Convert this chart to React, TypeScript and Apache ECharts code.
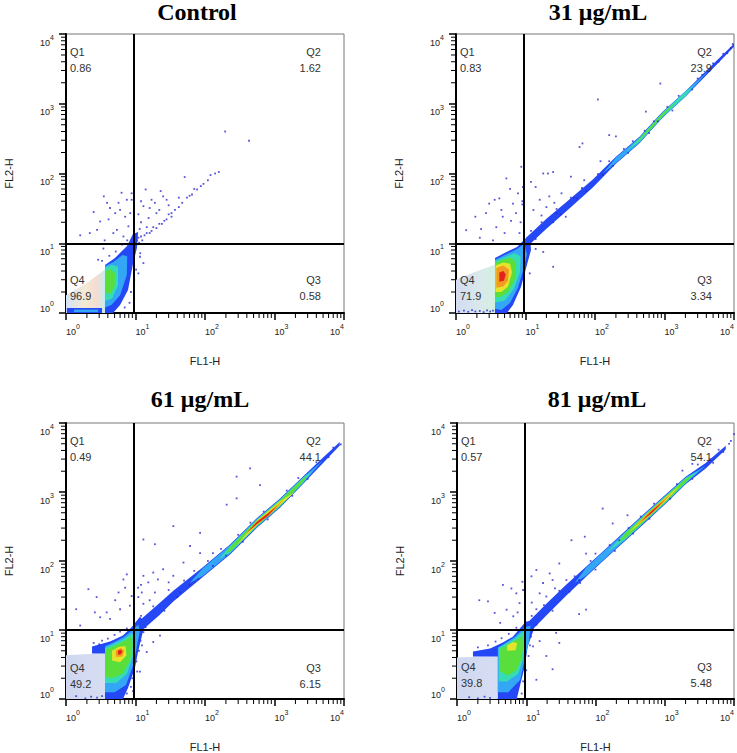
import React, { useEffect, useRef } from "react";
import * as echarts from "echarts";

type P = [number, number];

// ---------- texts ----------
const panelTitles = ["Control", "31 μg/mL", "61 μg/mL", "81 μg/mL"];
const q1Values = ["0.86", "0.83", "0.49", "0.57"];
const q2Values = ["1.62", "23.9", "44.1", "54.1"];
const q3Values = ["0.58", "3.34", "6.15", "5.48"];
const q4Values = ["96.9", "71.9", "49.2", "39.8"];
const xAxisName = "FL1-H";
const yAxisName = "FL2-H";

// ---------- axes / gates ----------
const axisMin = 1;
const axisMax = 10000;
const gateX = 9.4;
const gateY = 10;
const minorTickValues = [2, 3, 4, 5, 6, 7, 8, 9, 20, 30, 40, 50, 60, 70, 80, 90, 200, 300, 400, 500, 600, 700, 800, 900, 2000, 3000, 4000, 5000, 6000, 7000, 8000, 9000];

// ---------- Control ----------
const ctrlPale: P[] = [[1, 1], [1, 1.8], [2, 2.7], [3.64, 4.2], [3.64, 1]];
const ctrlStripL1: P[] = [[1.03, 1], [1.03, 1.18], [3.3, 1.18], [3.3, 1]];
const ctrlStripL2: P[] = [[1.3, 1.03], [1.3, 1.12], [2.9, 1.12], [2.9, 1.03]];
const ctrlLobeL1: P[] = [[3.64, 1], [3.64, 4.89], [5.07, 6.15], [7.55, 9.15], [9.2, 13.6], [10.9, 14.5], [10.5, 8.6], [9.2, 5.05], [7.8, 2.14], [6, 1.3], [4.75, 1]];
const ctrlLobeL2: P[] = [[3.64, 1.2], [3.64, 4.7], [4.8, 5.4], [6.5, 6.8], [7.6, 6.5], [7.5, 3.5], [6, 1.8], [4.5, 1.3]];
const ctrlLobeL3: P[] = [[3.64, 1.5], [3.64, 4.5], [4.6, 4.9], [5.6, 4.6], [5.6, 2.5], [4.6, 1.6]];
const ctrlLobeL4: P[] = [[3.64, 1.94], [3.64, 3.9], [4.3, 4.3], [5.07, 3.7], [5, 2.4], [4.4, 1.9]];
const ctrlDots: P[] = [
  [195, 400], [430, 295], [158, 105], [140, 100], [51, 89], [95, 71], [87, 66], [77, 59], [65, 50], [55, 45], [47, 38], [37, 30], [33, 24], [28, 22], [24, 19], [20, 16.5], [17, 15], [14.5, 14], [12, 12.5], [10.5, 11],
  [9, 9.5], [10, 10], [11, 12], [12.5, 11], [13.5, 13], [16, 14], [18, 17], [22, 19], [26, 21], [30, 26], [42, 33], [60, 48], [70, 60], [110, 80], [120, 95],
  [14, 59], [23, 56], [25, 47], [17, 42], [12, 40], [13, 34], [20, 27], [15.4, 23], [28, 42], [33, 27], [14.5, 17], [11, 26], [16, 32], [19, 38], [22, 30], [12, 20], [11.5, 16], [30, 35], [42, 45],
  [8.8, 52], [7.5, 42], [5.7, 38], [4.3, 32], [3.9, 38], [6, 30], [5.1, 27], [7.1, 24], [4.1, 22], [2.5, 28], [2.8, 15.5], [2.2, 14], [1.6, 13], [3.1, 20.5], [5.4, 15.5], [7.9, 17.5], [4.8, 14], [6.7, 12.5], [3.6, 11], [8.4, 27], [8.8, 42], [3.5, 47], [6.3, 53],
  [11.7, 7.2], [13, 5.2], [11, 3.7], [3.45, 8.4], [2.9, 5.8],
  [3.3, 5.6], [4.2, 6.6], [5.2, 7.6], [6.4, 9.6], [7.6, 11], [11.3, 10.2], [11.6, 6.4], [10.2, 4.2], [9.6, 3], [8.6, 2], [7, 1.2], [8.2, 1.4],
];

// ---------- 31 µg/mL ----------
const tr31Pale: P[] = [[1, 1], [1, 3], [1.9, 3.9], [3.64, 4.9], [3.64, 1]];
const tr31LobeL1: P[] = [[3.64, 1], [3.64, 6.15], [5.07, 7.3], [7.55, 8.85], [9.5, 11.1], [11.6, 12.7], [12, 8], [10.5, 4.9], [8.6, 2.36], [6.6, 1.3], [5.4, 1]];
const tr31LobeL2: P[] = [[3.64, 1.15], [3.64, 5.8], [5, 6.8], [7.5, 8.2], [9.5, 9.8], [10.5, 7], [9.4, 4.3], [7.8, 2.3], [6, 1.4], [4.5, 1.1]];
const tr31LobeL3: P[] = [[3.64, 1.4], [3.64, 5.5], [5, 6.3], [7, 7.2], [8.5, 6.5], [8.3, 3.8], [6.8, 2.2], [5, 1.5]];
const tr31LobeL4: P[] = [[3.64, 1.7], [3.64, 5.2], [4.8, 5.9], [6.3, 6.2], [7.3, 5.2], [7, 3], [5.6, 2], [4.4, 1.7]];
const tr31LobeL5: P[] = [[3.7, 2], [3.7, 4.8], [4.8, 5.3], [6, 5.1], [6.4, 3.8], [5.6, 2.4], [4.5, 2]];
const tr31LobeL6: P[] = [[3.8, 2.3], [3.8, 4.4], [4.8, 4.8], [5.8, 4.2], [5.6, 2.9], [4.8, 2.4]];
const tr31LobeL7: P[] = [[4.2, 2.8], [4.2, 3.8], [4.8, 4], [5.2, 3.6], [4.9, 2.9]];
const tr31BandL1: P[] = [[10, 11.8], [20, 22.4], [38, 38.3], [93, 82.2], [200, 174.5], [436, 336.7], [930, 762], [2040, 1537], [4370, 3247], [10000, 7273], [10000, 6546], [4370, 2809], [2040, 1294], [930, 625], [436, 271], [200, 137.6], [93, 63.1], [38, 28.4], [20, 16.1], [10, 8.5]];
const tr31BandL2: P[] = [[130, 101], [200, 169], [436, 329], [930, 752], [2040, 1537], [4370, 3020], [2040, 1294], [930, 633], [436, 277], [200, 142]];
const tr31BandL3: P[] = [[280, 207], [436, 322.5], [930, 737], [2040, 1506], [2600, 1796], [2040, 1320], [930, 646], [436, 283]];
const tr31BandL4: P[] = [[350, 250], [600, 450], [930, 725], [1500, 1065], [930, 657], [600, 407]];
const tr31Dots: P[] = [
  [1.4, 15.4], [1.9, 24], [2.3, 16], [3, 37], [3.6, 42], [4.2, 44], [5.3, 85], [6.6, 37], [7.3, 27], [6.2, 21], [4.7, 24], [3.8, 17], [8.2, 14], [7.8, 52], [9.2, 64], [8.7, 125], [2.7, 27], [3.4, 11], [2.2, 12], [5, 14], [9, 40], [9, 36], [6, 60], [4.5, 30], [8.5, 20],
  [12, 76], [14, 64], [18, 100], [21, 100], [25, 105], [16, 42], [20, 33], [22, 47], [28, 27], [33, 52], [38, 24], [45, 90], [60, 240], [66, 270], [110, 1150], [160, 355], [200, 340], [540, 770], [870, 1950], [13, 30], [17, 25], [26, 38], [50, 45], [70, 80], [120, 150],
  [14, 8.3], [25, 4.6], [11.5, 3.7], [18, 7.5], [9000, 6300], [9600, 7200],
  [1.1, 1.05], [1.3, 1.08], [1.5, 1.04], [1.7, 1.1], [1.9, 1.05], [2.2, 1.07], [2.5, 1.03], [2.8, 1.09], [3.1, 1.05], [3.4, 1.08],
  [12, 15], [14, 11.5], [17, 20], [25, 20], [28, 31], [32, 26], [45, 45], [55, 44], [65, 62], [75, 56], [110, 98], [130, 95], [160, 150], [180, 128], [260, 225], [300, 198], [350, 290], [520, 410], [600, 380], [700, 560], [800, 560], [1100, 900], [1300, 800], [1600, 1300], [2500, 1600], [3000, 2300], [3500, 2600], [5000, 3800], [6000, 4000], [7000, 5200], [8000, 5300],
];

// ---------- 61 µg/mL ----------
const ml61Pale: P[] = [[1, 1], [1, 4.3], [3.64, 4.6], [3.64, 1]];
const ml61LobeL1: P[] = [[2.37, 4.57], [2.37, 5.76], [4.3, 6.8], [6.6, 8.3], [8.9, 11.1], [11.6, 15.5], [14.2, 12.3], [12.8, 9.5], [10.9, 4.89], [9.8, 2.78], [7.8, 1.44], [6.6, 1], [3.64, 1], [3.64, 4.57]];
const ml61LobeL2: P[] = [[3.64, 1.25], [3.64, 5.8], [4.8, 6.6], [6.8, 7.9], [9, 10], [11, 12], [11.5, 9.5], [10.2, 5], [9.2, 3], [7.3, 1.6], [5, 1.25]];
const ml61LobeL3: P[] = [[3.64, 1.7], [3.64, 5.5], [4.8, 6.2], [6.8, 7.4], [9, 9], [9.8, 7], [9.2, 4.2], [7.5, 2.3], [5.3, 1.7]];
const ml61LobeL4: P[] = [[3.7, 2.1], [3.7, 5.2], [5, 5.9], [7, 7], [8.8, 8.2], [9.1, 6], [8.4, 3.6], [6.5, 2.3], [4.5, 2]];
const ml61LobeL5: P[] = [[4.6, 3.6], [4.6, 5], [5.8, 5.7], [7.2, 5.8], [7.4, 4.3], [6, 3.4]];
const ml61LobeL6: P[] = [[5.2, 4.1], [5.2, 5.1], [6.2, 5.5], [6.9, 5], [6.4, 4.1]];
const ml61LobeL7: P[] = [[5.6, 4.4], [5.6, 5], [6.2, 5.2], [6.5, 4.8], [6.1, 4.4]];
const ml61BandL1: P[] = [[10, 12.2], [22, 24.4], [35, 37.2], [93, 81.4], [229, 173.5], [560, 421], [1200, 803], [2570, 1678], [5000, 3159], [8700, 5305], [8700, 4713], [5000, 2625], [2570, 1305], [1200, 593], [560, 302.5], [229, 124.6], [93, 58.5], [35, 25.9], [22, 16.4], [10, 8.2]];
const ml61BandL2: P[] = [[60, 48], [93, 78.7], [229, 169], [560, 410], [1200, 785], [2570, 1640], [5000, 2880], [2570, 1336], [1200, 607], [560, 311], [229, 128], [93, 60.5]];
const ml61BandL3: P[] = [[160, 107], [229, 163], [560, 401], [1200, 769], [2570, 1607], [3500, 2014], [2570, 1363], [1200, 619], [560, 318], [229, 132]];
const ml61BandL4: P[] = [[200, 131], [229, 158], [560, 392], [1200, 757], [2570, 1570], [3000, 1726], [2570, 1395], [1200, 629], [560, 325], [229, 137]];
const ml61BandL5: P[] = [[280, 165], [560, 383], [1200, 737], [2000, 1020], [1200, 646], [560, 333]];
const ml61BandL6: P[] = [[360, 230], [560, 376], [900, 545], [1400, 805], [900, 490], [560, 339]];
const ml61BandL7: P[] = [[400, 256], [560, 371], [800, 487], [1100, 640], [800, 450], [560, 343]];
const ml61Dots: P[] = [
  [2.1, 39], [2.76, 30], [3.1, 15.3], [3.85, 18], [5.1, 27], [4.3, 14.5], [6.7, 54], [7.5, 64], [7.1, 41], [6, 20], [8.3, 22.5], [5.7, 35], [8.8, 31], [2.6, 18], [1.4, 20], [1.6, 11.6],
  [10.9, 41], [12.3, 35], [11, 30], [13, 24], [16, 27], [12, 45], [13, 61], [15.3, 49], [18, 68], [21, 54], [25, 76], [30, 49], [35, 61], [44, 35], [19, 35], [13, 205], [19, 175], [35, 320], [85, 255], [205, 655], [285, 1670], [445, 2200], [620, 1260], [285, 810], [85, 130], [49, 95], [61, 165], [130, 130],
  [13, 9.3], [18, 6.7], [22.5, 8.3], [11.6, 2.5], [14.5, 4.8],
  [1.9, 1.02], [2.3, 1.08], [2.8, 1.05], [3.3, 1.1], [1.4, 1.1],
  [12, 16], [14, 11], [18, 22], [26, 19], [30, 38], [40, 30], [50, 52], [60, 45], [70, 72], [80, 55], [110, 100], [130, 85], [170, 150], [200, 120], [300, 240], [350, 190], [450, 360], [700, 520], [800, 400], [1500, 1050], [1800, 880], [2200, 1600], [3000, 1550], [4000, 2700], [6000, 3200], [7000, 4400], [9000, 4900],
  [2.5, 6.5], [3, 6.2], [3.3, 7], [4, 7.5], [5, 8.5], [6, 9.5], [7.5, 10.5], [11.2, 5], [11.8, 7], [12.4, 6], [10.3, 3.5], [10.6, 2.5], [9, 2], [8.6, 1.5], [7.5, 1.2], [9.2, 1.3],
];

// ---------- 81 µg/mL ----------
const hi81Pale: P[] = [[1, 1], [1, 4], [3.89, 4.2], [3.89, 1]];
const hi81LobeL1: P[] = [[1.7, 4.14], [1.7, 4.89], [3, 5.4], [4.6, 6.6], [6.4, 8], [9.8, 13.2], [13.3, 14], [12.8, 10.1], [10.5, 5.76], [9.5, 2.97], [8.1, 1.54], [7.3, 1], [3.89, 1], [3.89, 4.14]];
const hi81LobeL2: P[] = [[3.89, 1.25], [3.89, 5.6], [5, 6.5], [6.8, 7.9], [9.5, 11], [11.5, 11.5], [11, 7], [9.6, 4], [8.2, 1.9], [5.5, 1.25]];
const hi81LobeL3: P[] = [[4, 1.8], [4, 5.5], [5.2, 6.4], [7, 7.6], [9.2, 9.8], [9.8, 7], [9, 3.8], [7.6, 2.3], [5.3, 1.8]];
const hi81LobeL4: P[] = [[4.2, 2.5], [4.2, 5.3], [5.5, 6.2], [7.3, 7.3], [8.8, 8.2], [9, 5.5], [8.4, 3.6], [7.2, 2.6], [5.5, 2.2]];
const hi81LobeL5: P[] = [[5.3, 5], [5.3, 6], [6.5, 6.7], [7.4, 6.4], [7, 5.1]];
const hi81BandL1: P[] = [[10, 12.2], [19.5, 24], [38, 45.6], [73, 82.6], [142, 152.2], [275, 278.5], [535, 513], [1040, 925], [2000, 1667], [3900, 2633], [7600, 4668], [7600, 4147], [3900, 2188], [2000, 1296], [1040, 683], [535, 368.6], [275, 200], [142, 109.3], [73, 59.3], [38, 31.7], [19.5, 16.2], [10, 8.2]];
const hi81BandL2: P[] = [[50, 48], [73, 79.9], [142, 148.2], [275, 271], [535, 500], [1040, 904], [2000, 1629], [3900, 2400], [2000, 1327], [1040, 699], [535, 378.6], [275, 205.4], [142, 112.3], [73, 61.3]];
const hi81BandL3: P[] = [[150, 136], [275, 265], [535, 488.5], [1040, 886], [2000, 1596], [3000, 1986], [2000, 1354], [1040, 713], [535, 387], [275, 210]];
const hi81BandL4: P[] = [[220, 191], [275, 257], [535, 477], [1040, 872], [2000, 1560], [2600, 1791], [2000, 1385], [1040, 725], [535, 396.5], [275, 216.5]];
const hi81BandL5: P[] = [[300, 256], [535, 466], [1040, 849], [1700, 1260], [1040, 744], [535, 406]];
const hi81BandL6: P[] = [[380, 318], [535, 458.5], [800, 661], [1300, 980], [800, 595], [535, 412.7]];
const hi81BandL7: P[] = [[460, 378], [650, 536], [1000, 767], [650, 495]];
const hi81Dots: P[] = [
  [2.8, 26], [3.5, 17.7], [4.6, 45], [6.1, 40], [7.2, 34], [5.2, 19.7], [8, 24.5], [6.5, 15.8], [2.1, 27], [4.2, 12.7], [8.8, 50], [9, 38], [7.5, 18],
  [11.9, 60], [14, 74], [17.5, 48], [21.8, 66], [24, 53], [30, 92], [15.6, 34], [19.5, 30.6], [38, 53], [45, 200], [70, 225], [73, 128], [127, 575], [177, 350], [290, 460], [220, 200], [100, 128], [1800, 2040], [2500, 2560], [58, 53], [12, 25], [14, 20], [26, 40], [8500, 5000], [9000, 5500], [10000, 6900], [73, 19.7], [58, 17],
  [15.6, 6.9], [19.5, 4.2], [24, 2.7], [12.5, 5.8], [30, 6.5], [14, 1.9], [27, 9.1],
  [1.5, 1.06], [2, 1.02], [2.5, 1.08], [3, 1.04],
  [12, 16], [14, 12], [18, 23], [24, 19], [30, 37], [42, 36], [50, 60], [60, 48], [85, 100], [100, 75], [160, 170], [190, 140], [300, 300], [350, 250], [450, 440], [600, 410], [700, 680], [1200, 800], [1500, 1300], [2500, 1550], [3000, 2500], [4500, 3000], [5000, 2650], [6000, 4100], [7000, 3800],
  [2, 5.6], [2.8, 6], [3.6, 6.8], [4.4, 7.6], [5.6, 8.8], [7.2, 10.8], [11.3, 6], [11.7, 8], [10.8, 4.2], [10, 2.6], [9, 1.8], [8.6, 1.2],
];

// ---------- assembly ----------
const PANELS = [
  { pale: ctrlPale, levels: [[ctrlLobeL1, ctrlStripL1], [ctrlLobeL2, ctrlStripL2], [ctrlLobeL3], [ctrlLobeL4]], dots: ctrlDots },
  { pale: tr31Pale, levels: [[tr31LobeL1, tr31BandL1], [tr31LobeL2, tr31BandL2], [tr31LobeL3, tr31BandL3], [tr31LobeL4, tr31BandL4], [tr31LobeL5], [tr31LobeL6], [tr31LobeL7]], dots: tr31Dots },
  { pale: ml61Pale, levels: [[ml61LobeL1, ml61BandL1], [ml61LobeL2, ml61BandL2], [ml61LobeL3, ml61BandL3], [ml61LobeL4, ml61BandL4], [ml61LobeL5, ml61BandL5], [ml61LobeL6, ml61BandL6], [ml61LobeL7, ml61BandL7]], dots: ml61Dots },
  { pale: hi81Pale, levels: [[hi81LobeL1, hi81BandL1], [hi81LobeL2, hi81BandL2], [hi81LobeL3, hi81BandL3], [hi81LobeL4, hi81BandL4], [hi81LobeL5, hi81BandL5], [hi81BandL6], [hi81BandL7]], dots: hi81Dots },
];

const GRIDS = [
  { left: 66, top: 34, width: 278, height: 279 },
  { left: 456, top: 34, width: 279, height: 279 },
  { left: 66, top: 423, width: 278, height: 278 },
  { left: 457, top: 423, width: 278, height: 277 },
];
const TITLE_POS: P[] = [[197, 12], [598, 12], [200, 399], [597, 399]];
const LEVEL_COLORS = ["#2448f5", "#33a6f6", "#36dcb4", "#5ade3c", "#e6e42a", "#f39a22", "#e0261a"];
const DOT_COLOR = "#2b2bd0";
const PALE_STOPS: [number, string][][] = [
  [[0, "#d5e3f6"], [0.5, "#f5e9d2"], [0.78, "#f3dcd2"], [1, "#c8ecef"]],
  [[0, "#d3dcf2"], [0.6, "#d9e8ec"], [1, "#d3f0e0"]],
  [[0, "#cfd7f0"], [1, "#d7def3"]],
  [[0, "#d0d8f1"], [1, "#d6ddf3"]],
];
const FONT = "'Liberation Sans', Arial, sans-serif";
const SERIF = "'Liberation Serif', 'Times New Roman', serif";

function polySeries(poly: P[], gi: number, fill: any, z: number) {
  return {
    type: "custom",
    xAxisIndex: gi,
    yAxisIndex: gi,
    data: poly,
    clip: true,
    silent: true,
    z,
    renderItem: (params: any, api: any) => {
      if (params.dataIndex !== 0) return null;
      const pts = poly.map((p) => api.coord(p));
      return { type: "polygon", shape: { points: pts }, style: { fill } };
    },
  };
}

function minorSeries(gi: number, horizontal: boolean) {
  return {
    type: "custom",
    xAxisIndex: gi,
    yAxisIndex: gi,
    data: minorTickValues.map((v) => (horizontal ? [v, axisMin] : [axisMin, v])),
    clip: false,
    silent: true,
    z: 6,
    renderItem: (params: any, api: any) => {
      const p = api.coord([api.value(0), api.value(1)]);
      const shape = horizontal
        ? { x1: p[0], y1: p[1] + 1, x2: p[0], y2: p[1] + 5 }
        : { x1: p[0] - 1, y1: p[1], x2: p[0] - 5, y2: p[1] };
      return { type: "line", shape, style: { stroke: "#000", lineWidth: 1 } };
    },
  };
}

const rich = {
  b: { fontSize: 9, fontFamily: FONT, color: "#222", lineHeight: 13, verticalAlign: "bottom" },
  s: { fontSize: 7, fontFamily: FONT, color: "#222", lineHeight: 8, verticalAlign: "top" },
};
const fmt = (v: number) => `{b|10}{s|${Math.round(Math.log10(v))}}`;

function buildOption() {
  const series: any[] = [];
  const graphic: any[] = [];
  const xAxis: any[] = [];
  const yAxis: any[] = [];
  const grid: any[] = [];

  PANELS.forEach((pn, i) => {
    const g = GRIDS[i];
    grid.push({ ...g, show: true, borderColor: "#777", borderWidth: 1, containLabel: false });
    const axisCommon = {
      type: "log",
      logBase: 10,
      gridIndex: i,
      min: axisMin,
      max: axisMax,
      nameLocation: "middle",
      nameTextStyle: { fontFamily: FONT, fontSize: 11, color: "#222" },
      axisLine: { show: true, onZero: false, lineStyle: { color: "#000", width: 2 } },
      axisTick: { show: true, length: 7, lineStyle: { color: "#000", width: 1.5 } },
      splitLine: { show: false },
      minorTick: { show: false },
      minorSplitLine: { show: false },
    };
    xAxis.push({
      ...axisCommon,
      position: "bottom",
      name: xAxisName,
      nameGap: 42,
      axisLabel: { formatter: fmt, rich, margin: 10, align: "left", alignMaxLabel: "right", showMinLabel: true, showMaxLabel: true },
    });
    yAxis.push({
      ...axisCommon,
      position: "left",
      name: yAxisName,
      nameGap: 52,
      axisLabel: { formatter: fmt, rich, margin: 12, verticalAlign: "top", verticalAlignMinLabel: "bottom", showMinLabel: true, showMaxLabel: true },
    });

    const stops = PALE_STOPS[i].map(([offset, color]) => ({ offset, color }));
    series.push(polySeries(pn.pale, i, new echarts.graphic.LinearGradient(0, 0, 1, 0, stops), 1));
    pn.levels.forEach((polys, li) => {
      polys.forEach((poly) => series.push(polySeries(poly, i, LEVEL_COLORS[li], 2)));
    });
    series.push({
      type: "scatter",
      xAxisIndex: i,
      yAxisIndex: i,
      data: pn.dots,
      symbol: "rect",
      symbolSize: 1.8,
      itemStyle: { color: DOT_COLOR },
      silent: true,
      z: 3,
      markLine: {
        silent: true,
        symbol: ["none", "none"],
        label: { show: false },
        lineStyle: { color: "#000", width: 2, type: "solid" },
        data: [{ xAxis: gateX }, { yAxis: gateY }],
      },
    });
    series.push(minorSeries(i, true));
    series.push(minorSeries(i, false));

    const right = g.left + g.width;
    const bottom = g.top + g.height;
    const t = (text: string, x: number, y: number, align: string) => ({
      type: "text",
      x,
      y,
      z: 100,
      silent: true,
      style: { text, fill: "#333", fontSize: 11, fontFamily: FONT, align, verticalAlign: "middle" },
    });
    graphic.push(t("Q1", g.left + 4, g.top + 18, "left"));
    graphic.push(t(q1Values[i], g.left + 4, g.top + 34, "left"));
    graphic.push(t("Q2", right - 23, g.top + 18, "right"));
    graphic.push(t(q2Values[i], right - 23, g.top + 34, "right"));
    graphic.push(t("Q3", right - 23, bottom - 33, "right"));
    graphic.push(t(q3Values[i], right - 23, bottom - 17, "right"));
    graphic.push(t("Q4", g.left + 4, bottom - 33, "left"));
    graphic.push(t(q4Values[i], g.left + 4, bottom - 17, "left"));
    graphic.push({
      type: "text",
      x: TITLE_POS[i][0],
      y: TITLE_POS[i][1],
      z: 100,
      silent: true,
      style: { text: panelTitles[i], fill: "#000", fontSize: 24, fontWeight: "bold", fontFamily: SERIF, align: "center", verticalAlign: "middle" },
    });
  });

  return { animation: false, backgroundColor: "#fff", grid, xAxis, yAxis, series, graphic };
}

export default function App() {
  const ref = useRef<HTMLDivElement>(null);
  useEffect(() => {
    if (!ref.current) return;
    const chart = echarts.init(ref.current, undefined, { renderer: "svg" });
    chart.setOption(buildOption() as any);
    return () => chart.dispose();
  }, []);
  return <div ref={ref} style={{ position: "absolute", left: 0, top: 0, width: 737, height: 753, background: "#fff" }} />;
}
